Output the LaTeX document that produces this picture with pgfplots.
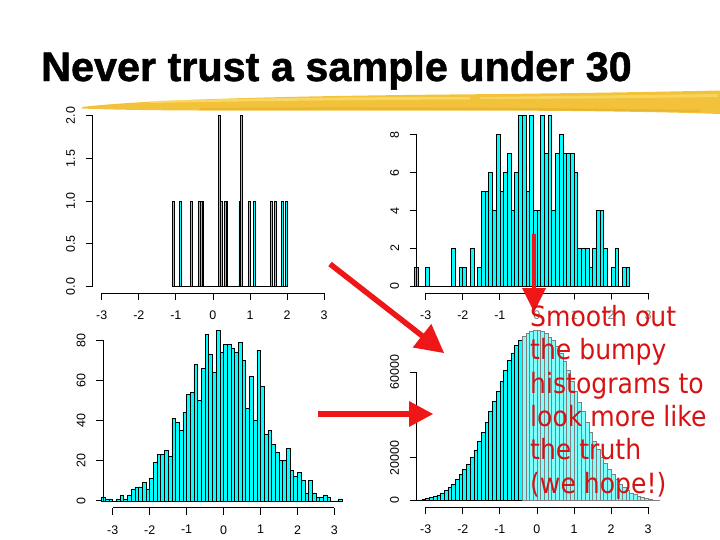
\documentclass[border=0pt]{standalone}
\usepackage{pgfplots}
\pgfplotsset{compat=1.18}
\usepackage{fontspec}
\setmainfont{Liberation Sans}
\newfontfamily\comicfont[FakeStretch=0.9]{DejaVu Sans}
\newfontfamily\titlefont[FakeBold=1.2]{Liberation Sans Bold}
\definecolor{rcyan}{RGB}{0,255,255}
\definecolor{brush}{RGB}{242,194,58}
\definecolor{brushlight}{RGB}{252,224,120}
\definecolor{brushdark}{RGB}{228,170,40}
\definecolor{arrowred}{RGB}{238,22,22}
\definecolor{textred}{RGB}{215,18,18}
\pgfplotsset{
  rhist/.style={
    scale only axis, width=240.5bp, height=184.5bp,
    anchor=south west, clip=false,
    axis lines*=left, axis line style={draw=none},
    tick align=outside, major tick length=7bp,
    every tick/.style={black, line width=0.8bp},
    xtick={-3,-2,-1,0,1,2,3},
    xticklabels={-3,-2,-1,0,1,2,3},
    ticklabel style={font=\fontsize{12.5}{14}\selectfont, inner sep=0pt},
    xticklabel style={anchor=north, yshift=-10.5bp},
    yticklabel style={rotate=90, anchor=south, yshift=10.5bp},
    scaled ticks=false,
    xmin=-3.243, xmax=3.243,
  },
  rbar/.style={ybar interval, fill=rcyan, draw=black, line width=0.6bp},
}
\begin{document}
\begin{tikzpicture}
\path[use as bounding box] (0,0) rectangle (720bp,-540bp);

% ---------- top left: n = 20 ----------
\begin{axis}[rhist, at={(92.7bp,-293.3bp)}, ymin=-0.08, ymax=2.08,
  ytick={0,0.5,1,1.5,2}, yticklabels={0.0,0.5,1.0,1.5,2.0}]
\addplot[rbar] coordinates {
(-1.10,1)(-1.05,0)(-1.00,0)(-0.95,0)(-0.90,1)(-0.85,0)(-0.80,0)(-0.75,0)
(-0.70,0)(-0.65,0)(-0.60,1)(-0.55,0)(-0.50,0)(-0.45,0)(-0.40,1)(-0.35,1)
(-0.30,1)(-0.25,0)(-0.20,0)(-0.15,0)(-0.10,0)(-0.05,0)(0.00,0)(0.05,0)
(0.10,0)(0.15,2)(0.20,1)(0.25,0)(0.30,1)(0.35,1)(0.40,0)(0.45,0)
(0.50,0)(0.55,0)(0.60,0)(0.65,0)(0.70,1)(0.75,2)(0.80,0)(0.85,0)
(0.90,0)(0.95,1)(1.00,0)(1.05,0)(1.10,1)(1.15,0)(1.20,0)(1.25,0)
(1.30,0)(1.35,0)(1.40,0)(1.45,0)(1.50,0)(1.55,1)(1.60,0)(1.65,1)
(1.70,0)(1.75,0)(1.80,0)(1.85,1)(1.90,0)(1.95,1)(2.00,0)};
\draw[line width=0.8bp] (axis cs:-3,-0.08) -- (axis cs:3,-0.08);
\draw[line width=0.8bp] (axis cs:-3.243,0) -- (axis cs:-3.243,2);
\end{axis}

% ---------- top right: n = 200 ----------
\begin{axis}[rhist, at={(416.7bp,-293.3bp)}, ymin=-0.36, ymax=9.36,
  ytick={0,2,4,6,8}, yticklabels={0,2,4,6,8}]
\addplot[rbar] coordinates {
(-3.3,1)(-3.2,0)(-3.1,0)(-3.0,1)(-2.9,0)(-2.8,0)(-2.7,0)(-2.6,0)(-2.5,0)
(-2.4,0)(-2.3,2)(-2.2,0)(-2.1,1)(-2.0,1)(-1.9,0)(-1.8,2)(-1.7,0)(-1.6,1)
(-1.5,5)(-1.4,5)(-1.3,6)(-1.2,4)(-1.1,8)(-1.0,5)(-0.9,6)(-0.8,7)(-0.7,4)
(-0.6,6)(-0.5,9)(-0.4,9)(-0.3,5)(-0.2,9)(-0.1,4)(0.0,4)(0.1,9)(0.2,7)
(0.3,9)(0.4,4)(0.5,7)(0.6,8)(0.7,7)(0.8,7)(0.9,7)(1.0,6)(1.1,2)(1.2,2)
(1.3,2)(1.4,1)(1.5,2)(1.6,4)(1.7,4)(1.8,2)(1.9,0)(2.0,1)(2.1,2)(2.2,0)
(2.3,1)(2.4,1)(2.5,0)};
\draw[line width=0.8bp] (axis cs:-3,-0.36) -- (axis cs:3,-0.36);
\draw[line width=0.8bp] (axis cs:-3.243,0) -- (axis cs:-3.243,8);
\end{axis}

% ---------- bottom left: n = 2000 ----------
\begin{axis}[rhist, at={(103.3bp,-507.7bp)}, xmin=-3.254, xmax=3.254,
  ymin=-3.4, ymax=88.4, ytick={0,20,40,60,80}, yticklabels={0,20,40,60,80}]
\addplot[rbar] coordinates {
(-3.3,2)(-3.2,1)(-3.1,1)(-3.0,0)(-2.9,1)(-2.8,3)(-2.7,1)(-2.6,3)(-2.5,6)
(-2.4,7)(-2.3,7)(-2.2,9)(-2.1,6)(-2.0,11)(-1.9,19)(-1.8,23)(-1.7,23)
(-1.6,25)(-1.5,22)(-1.4,41)(-1.3,39)(-1.2,35)(-1.1,44)(-1.0,53)(-0.9,54)
(-0.8,68)(-0.7,50)(-0.6,66)(-0.5,83)(-0.4,73)(-0.3,64)(-0.2,85)(-0.1,74)
(0.0,78)(0.1,78)(0.2,76)(0.3,74)(0.4,79)(0.5,70)(0.6,46)(0.7,62)(0.8,40)
(0.9,75)(1.0,57)(1.1,33)(1.2,35)(1.3,28)(1.4,24)(1.5,20)(1.6,20)(1.7,26)
(1.8,15)(1.9,12)(2.0,14)(2.1,10)(2.2,4)(2.3,10)(2.4,4)(2.5,2)(2.6,2)
(2.7,3)(2.8,2)(2.9,0)(3.0,0)(3.1,1)(3.2,0)};
\draw[line width=0.8bp] (axis cs:-3,-3.4) -- (axis cs:3,-3.4);
\draw[line width=0.8bp] (axis cs:-3.254,0) -- (axis cs:-3.254,80);
\end{axis}

% ---------- bottom right: n = 2,000,000 ----------
\begin{axis}[rhist, at={(416.7bp,-507.3bp)}, ymin=-3200, ymax=83200,
  ytick={0,20000,40000,60000}, yticklabels={0,20000,{},60000}]
\addplot[rbar] coordinates {
(-3.3,150)(-3.2,300)(-3.1,470)(-3.0,930)(-2.9,1400)(-2.8,1870)(-2.7,2650)
(-2.6,3580)(-2.5,4670)(-2.4,6080)(-2.3,7790)(-2.2,9820)(-2.1,12150)
(-2.0,14490)(-1.9,17140)(-1.8,20100)(-1.7,23680)(-1.6,27730)(-1.5,31940)
(-1.4,36610)(-1.3,41750)(-1.2,46270)(-1.1,50950)(-1.0,55780)(-0.9,60760)
(-0.8,65440)(-0.7,69020)(-0.6,72450)(-0.5,74780)(-0.4,76650)(-0.3,78210)
(-0.2,79150)(-0.1,79770)(0.0,79700)(0.1,79100)(0.2,78300)(0.3,76500)
(0.4,74900)(0.5,72300)(0.6,69100)(0.7,65300)(0.8,60900)(0.9,55600)
(1.0,51000)(1.1,46100)(1.2,41900)(1.3,36500)(1.4,32000)(1.5,27600)
(1.6,23800)(1.7,20000)(1.8,17200)(1.9,14400)(2.0,12200)(2.1,9800)
(2.2,7800)(2.3,6100)(2.4,4700)(2.5,3550)(2.6,2700)(2.7,1850)(2.8,1400)
(2.9,950)(3.0,480)(3.1,300)(3.2,150)(3.3,0)};
\draw[line width=0.8bp] (axis cs:-3,-3200) -- (axis cs:3,-3200);
\draw[line width=0.8bp] (axis cs:-3.243,0) -- (axis cs:-3.243,60000);
\end{axis}

\begin{scope}[x=1bp,y=-1bp]
% title
\node[anchor=base west, inner sep=0pt, font=\titlefont\fontsize{41.5}{48}\selectfont] at (41,81) {Never trust a sample under 30};
% brush stroke
\fill[brush] (82,107) .. controls (150,99) and (300,96) .. (450,94.5) .. controls (560,93.5) and (650,92) .. (720,90.5)
  -- (720,114) .. controls (650,111.5) and (560,110.5) .. (450,110.5) .. controls (300,110.5) and (150,111.5) .. (82,108.5) -- cycle;
\fill[brushlight, opacity=0.7] (150,101) .. controls (250,98) and (350,97) .. (470,97) -- (470,99.5) .. controls (350,100) and (250,101) .. (150,103) -- cycle;
\fill[brushlight, opacity=0.6] (480,97) .. controls (560,96) and (640,95) .. (718,94) -- (718,97) .. controls (640,98) and (560,99) .. (480,99) -- cycle;
\fill[brushdark, opacity=0.5] (200,108) .. controls (350,107) and (500,107) .. (700,110) -- (700,112) .. controls (500,109.5) and (350,109.5) .. (200,110) -- cycle;
% arrows
\draw[arrowred, line width=5.5bp] (330,264) -- (423,336.5);
\fill[arrowred] (412.7,347.5) -- (431.3,323.9) -- (444,353) -- cycle;
\draw[arrowred, line width=6bp] (318,414) -- (411,414);
\fill[arrowred] (409,401) -- (409,427) -- (433,414) -- cycle;
% washed text box
\fill[white, fill opacity=0.5] (522,299) rectangle (720,506);
\draw[arrowred, line width=4.5bp] (534,234) -- (534,290);
\fill[arrowred] (522,288) -- (546,288) -- (534,312) -- cycle;
% red text
\begin{scope}[every node/.style={anchor=base west, inner sep=0pt, text=textred, font=\comicfont\fontsize{28}{32}\selectfont}]
\node at (530,326) {Smooth out};
\node at (530,359.5) {the bumpy};
\node at (530,393) {histograms to};
\node at (530,426) {look more like};
\node at (530,459.5) {the truth};
\node at (530,493) {(we hope!)};
\end{scope}
\end{scope}
\end{tikzpicture}
\end{document}
